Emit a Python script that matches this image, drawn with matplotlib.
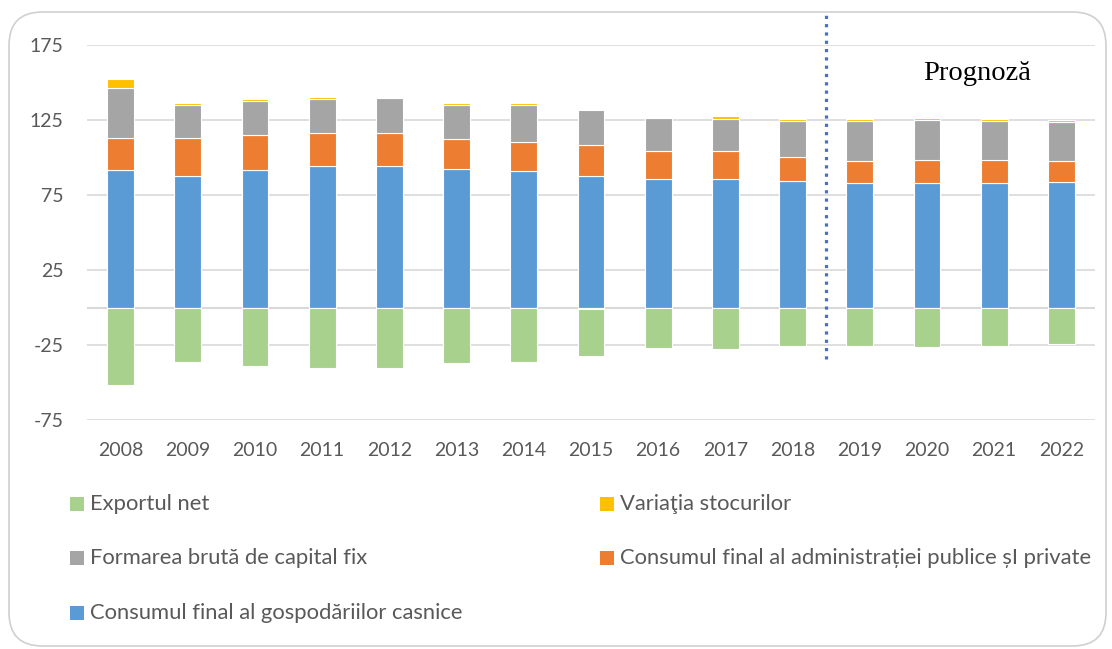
import matplotlib
matplotlib.use("Agg")
import matplotlib.pyplot as plt
from matplotlib.patches import FancyBboxPatch, Rectangle
import numpy as np

years = ["2008", "2009", "2010", "2011", "2012", "2013", "2014", "2015",
         "2016", "2017", "2018", "2019", "2020", "2021", "2022"]
consum_gosp = [91.5, 87.9, 91.5, 94.5, 94.5, 92.1, 90.8, 87.5, 85.7, 85.5, 84.1, 82.8, 83.2, 83.2, 83.7]
consum_admin = [21.7, 24.9, 23.7, 21.6, 21.6, 20.0, 19.7, 20.6, 18.8, 18.6, 16.0, 15.1, 14.9, 14.9, 14.2]
formarea = [33.3, 22.4, 22.7, 22.9, 23.6, 22.7, 24.5, 23.8, 21.8, 21.8, 24.4, 26.6, 27.1, 26.4, 26.0]
variatia = [5.8, 0.9, 0.9, 1.3, 0.0, 1.7, 1.5, -1.0, 0.7, 1.8, 1.0, 1.2, 0.9, 1.2, 1.0]
export_net = [-51.5, -36.1, -38.8, -40.3, -40.1, -36.8, -36.3, -31.1, -27.0, -27.9, -25.5, -25.5, -26.1, -25.5, -24.5]

labels = ["Exportul net", "Variaţia stocurilor", "Formarea brută de capital fix",
          "Consumul final al administrației publice șI private",
          "Consumul final al gospodăriilor casnice"]
c_green, c_yellow, c_gray, c_orange, c_blue = "#A9D18E", "#FFC000", "#A5A5A5", "#ED7D31", "#5B9BD5"

W, H = 1112, 649
plt.rcParams['font.family'] = ['Lato', 'DejaVu Sans']
fig = plt.figure(figsize=(W / 100, H / 100), dpi=100)
txt_col = "#595959"

def fx(px):
    return px / W

def fy(py):
    return 1 - py / H

# chart border
border = FancyBboxPatch((fx(9), fy(646)), fx(1106) - fx(9), fy(12) - fy(646),
                        boxstyle="round,pad=0,rounding_size=0.03",
                        transform=fig.transFigure, facecolor="none",
                        edgecolor="#D0D0D0", linewidth=1.2, mutation_aspect=W / H,
                        zorder=-5)
fig.patches.append(border)

ax = fig.add_axes([fx(87), fy(420), fx(1095) - fx(87), fy(45) - fy(420)])
ax.set_facecolor("none")
x = np.arange(len(years))
bw = 0.4
ek = dict(edgecolor="white", linewidth=0.8, zorder=3)

pos_base = np.zeros(len(years))
neg_base = np.zeros(len(years))

def stack(vals, color):
    global pos_base, neg_base
    vals = np.array(vals, dtype=float)
    bottoms = np.where(vals >= 0, pos_base, neg_base)
    ax.bar(x, vals, bw, bottom=bottoms, color=color, **ek)
    pos_base = pos_base + np.where(vals >= 0, vals, 0)
    neg_base = neg_base + np.where(vals < 0, vals, 0)

stack(consum_gosp, c_blue)
stack(consum_admin, c_orange)
stack(formarea, c_gray)
stack(variatia, c_yellow)
stack(export_net, c_green)

ax.set_xlim(-0.5, len(years) - 0.5)
ax.set_ylim(-75, 175)
yt = [-75, -25, 25, 75, 125, 175]
ax.set_yticks(yt)
ax.set_yticklabels([str(v) for v in yt])
ax.set_xticks(x)
ax.set_xticklabels(years)
for v in yt:
    ax.axhline(v, color="#D9D9D9", linewidth=1.2, zorder=1)
ax.axhline(0, color="#D9D9D9", linewidth=1.5, zorder=2)
for s in ax.spines.values():
    s.set_visible(False)
ax.tick_params(axis="both", length=0, labelsize=14, labelcolor=txt_col)
ax.tick_params(axis="y", pad=17)
ax.tick_params(axis="x", pad=16)

# forecast separator
ax.plot([10.5, 10.5], [-34, 196], color="#4472C4", linewidth=2.3,
        linestyle=(0, (1, 1.6)), dash_capstyle="butt", clip_on=False, zorder=4)
ax.text(11.95, 156, "Prognoză", fontsize=20.5, family=["Liberation Serif"],
        color="black", ha="left", va="center")

# legend (manual)
rows = [504, 558, 613]
entries = [(70, rows[0], c_green, labels[0]), (600, rows[0], c_yellow, labels[1]),
           (70, rows[1], c_gray, labels[2]), (600, rows[1], c_orange, labels[3]),
           (70, rows[2], c_blue, labels[4])]
for px, py, col, lab in entries:
    fig.patches.append(Rectangle((fx(px), fy(py + 7)), fx(14), 14 / H,
                                 transform=fig.transFigure, facecolor=col, edgecolor="none"))
    fig.text(fx(px + 20), fy(py), lab, fontsize=15.8, color=txt_col, ha="left", va="center")

fig.savefig("out.png", dpi=100)
